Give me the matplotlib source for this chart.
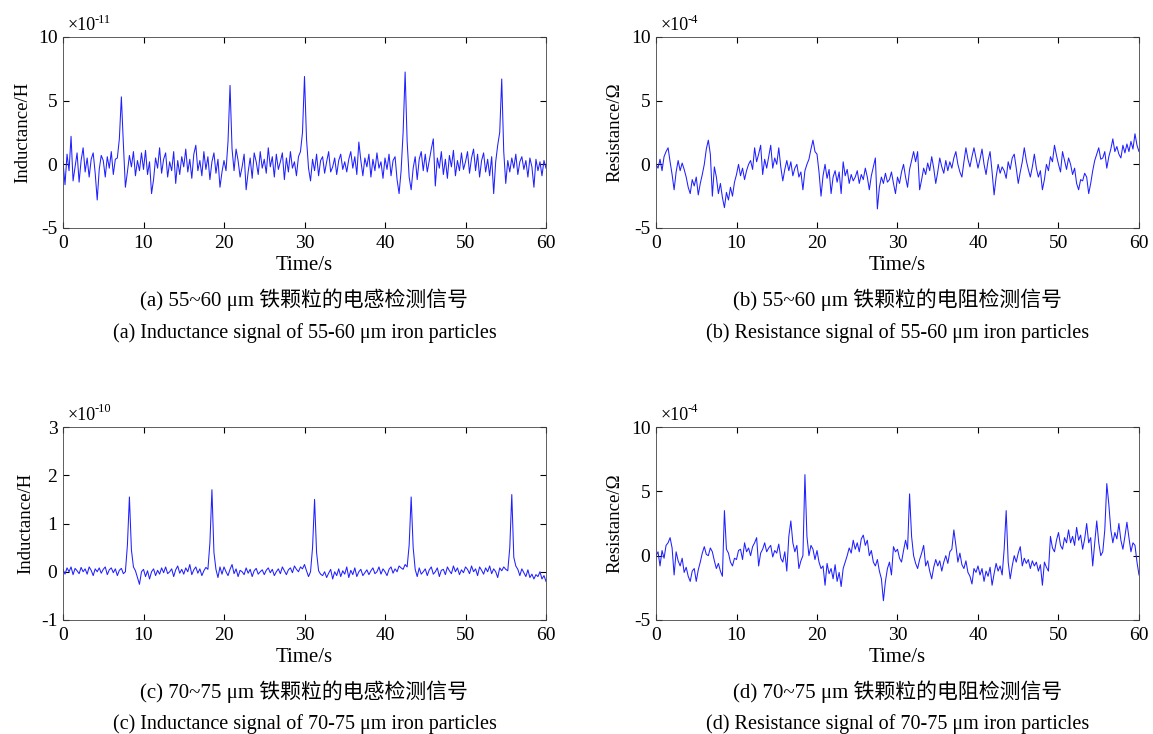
import numpy as np
import matplotlib
matplotlib.use("Agg")
import matplotlib.pyplot as plt

plt.rcParams['font.family'] = ['Liberation Serif', 'Noto Sans CJK SC']
plt.rcParams['axes.unicode_minus'] = False

# time axis: 0..60 s, sample every 0.25 s
t = np.arange(241) * 0.25

# (a) inductance, 55-60 um particles, x1e-11 H
ind_a = [
    0.2, -1.6, 0.8, -0.5, 2.2, -1.3, -0.2, 0.9, -1.4, 0.3, 1.3, -0.6, 0.5, -1.0, 0.4, 0.9, -0.7, -2.8, -0.4, 0.7,
    0.3, -1.0, 0.6, -0.3, 1.0, -0.8, 0.4, 0.5, 2.0, 5.3, 1.6, -1.8, -0.6, 0.7, -0.2, 1.0, -0.9, 0.3, -0.5, 0.9,
    -0.4, 1.1, -0.8, 0.2, -2.3, -1.2, 0.5, -0.3, 1.3, -0.7, 0.4, 0.9, -1.0, 0.2, -0.5, 1.0, -1.5, 0.3, -0.8, 0.6,
    -0.2, 1.2, -0.6, 0.4, -1.1, 0.8, 1.5, -0.5, 0.3, -0.9, 1.0, -0.4, 0.6, -1.2, 0.2, 0.9, -0.7, 0.4, -1.8, -0.6,
    0.3, -0.5, 1.8, 6.2, 1.2, -0.5, 1.2, 0.3, -1.0, -0.2, 0.8, -2.0, -0.6, 0.5, -1.1, 0.9, 0.2, -0.8, 1.0, -0.3,
    0.4, -0.7, 1.3, -0.2, 0.6, -1.0, 0.8, -0.4, 0.2, 0.9, -1.2, 0.5, -0.6, 1.0, -0.3, 0.2, -0.9, 0.6, 1.0, 2.5,
    6.9, 2.0, -0.3, -1.3, 0.4, -0.5, 0.8, -0.9, 0.3, 0.6, -0.7, 0.2, 1.0, -0.6, -0.2, 0.5, -0.8, 0.3, 0.8, -0.4,
    0.2, -0.6, 0.4, 1.0, -0.3, 0.6, -0.8, 1.75, 0.3, -0.9, 0.5, -0.2, 0.8, -1.0, 0.4, -0.5, 0.9, -0.3, 0.2, -1.1,
    0.5, -0.4, 0.8, -0.9, 0.3, 0.6, -1.2, -2.3, -0.5, 2.5, 7.25, 1.8, -1.0, -2.0, -0.3, 0.6, -1.2, 0.4, 1.0, -0.5,
    0.8, -0.6, 0.3, 1.2, 2.0, -1.7, 0.5, -0.3, 1.0, -0.8, 0.4, -1.1, 0.7, -0.2, 1.1, -0.9, 0.3, -0.5, 0.9, -0.4,
    0.2, 1.0, -0.7, 0.5, 1.2, -0.5, 0.8, -1.0, 0.3, 0.9, -0.6, 0.4, -0.9, 0.6, -2.3, 0.2, 1.5, 2.5, 6.7, 1.0,
    -1.5, 0.3, -0.6, 0.5, -0.3, 0.8, -0.8, 0.2, 0.6, -0.4, 0.3, -1.0, 0.5, -0.2, -1.8, 0.4, -0.5, 0.2, -0.9, 0.3,
    -0.3,
]

# (b) resistance, 55-60 um particles, x1e-4 Ohm
res_b = [
    0.0, -0.3, 0.4, -0.5, 0.6, 1.0, 1.3, 0.2, -0.8, -2.0, -0.6, 0.3, -0.5, 0.1, -0.4, -1.0, -1.8, -2.3, -1.2, -1.7,
    -1.0, -2.4, -1.5, -0.8, 0.0, 1.2, 1.9, 0.8, -2.5, -0.2, -1.0, -2.3, -1.5, -2.6, -3.4, -2.2, -2.8, -1.8, -2.5, -1.4,
    -0.8, 0.0, -0.9, -0.3, -1.2, -0.5, 0.0, 0.3, -0.4, 1.3, 0.2, 0.8, 1.5, -0.8, 0.4, -0.3, 0.6, 1.5, -0.3, 0.5,
    0.0, 1.3, -0.2, -1.3, -0.4, 0.3, -0.5, 0.2, -0.9, -0.3, 0.0, -1.0, -0.6, -2.0, -0.5, 0.0, 0.4, 1.2, 1.9, 1.0,
    0.8, -0.6, -2.5, -0.9, 0.0, -1.1, -0.4, -2.3, -1.0, -0.5, -1.4, -0.6, -2.3, 0.2, -0.9, -0.4, -1.5, -0.8, -1.3, -1.0,
    -0.5, -1.5, -0.8, -1.2, -0.3, -1.0, -2.0, -0.9, -0.2, 0.5, -3.5, -1.8, -1.0, -1.5, -0.7, -1.4, -1.2, -0.6, -1.5, -2.3,
    -1.0, -1.5, -0.6, 0.0, -1.0, -1.8, -0.4, 0.3, 1.0, 0.2, 1.0, -2.0, -1.2, -0.3, -0.8, 0.1, -0.5, 0.6, -0.3, -1.5,
    -0.6, 0.5, -0.2, -0.7, 0.3, -0.5, 0.2, -0.3, 0.5, 1.0, 0.0, -0.6, -1.0, 0.2, 1.3, 0.4, -0.2, 0.6, 1.3, 0.5,
    -0.3, 0.4, 1.2, 0.0, -0.8, 0.3, 1.0, -0.6, -2.4, -1.0, 0.0, -0.7, -0.2, -0.5, -1.1, 0.2, -0.4, 0.5, 0.8, -0.3,
    -1.5, -0.6, 0.2, 1.3, 0.3, -0.4, -1.0, -0.2, 0.8, -0.3, -1.0, -0.5, -2.0, -1.2, 0.0, -0.5, 0.6, 0.2, 1.5, 0.7,
    0.0, -0.6, 1.0, 0.3, -0.4, 0.5, 0.0, -0.8, -0.3, -1.5, -2.0, -1.2, -1.3, -0.7, -1.0, -2.3, -1.5, -0.5, 0.3, 0.8,
    1.3, 0.4, 0.5, 1.0, -0.3, 0.6, 1.2, 2.0, 1.0, 1.4, 0.8, 0.5, 1.5, 0.9, 1.6, 1.0, 1.8, 1.2, 2.4, 1.5,
    1.0,
]

# (c) inductance, 70-75 um particles, x1e-10 H
ind_c = [
    0.05, -0.05, 0.08, 0.0, 0.1, -0.06, 0.07, 0.02, -0.04, 0.09, 0.0, 0.06, -0.05, 0.1, 0.03, -0.08, 0.06, 0.0, 0.08, -0.03,
    0.05, 0.1, -0.06, 0.04, 0.08, -0.02, 0.06, -0.08, 0.03, 0.07, -0.04, 0.0, 0.55, 1.55, 0.45, 0.1, 0.02, -0.12, -0.26, 0.0,
    0.05, -0.1, 0.02, -0.15, 0.0, 0.06, -0.08, 0.03, -0.05, 0.08, -0.02, 0.1, -0.04, 0.0, 0.06, -0.1, 0.04, 0.12, -0.03, 0.05,
    -0.05, 0.08, 0.0, 0.15, -0.06, 0.04, 0.1, -0.03, 0.06, -0.08, 0.02, 0.09, 0.05, 0.6, 1.7, 0.4, 0.05, -0.12, 0.1, -0.05,
    0.1, 0.0, -0.08, 0.05, 0.15, -0.04, 0.06, -0.1, 0.03, 0.0, -0.06, 0.08, -0.03, 0.05, -0.1, 0.02, 0.07, -0.05, 0.0, 0.04,
    -0.06, 0.03, 0.08, -0.02, 0.05, -0.08, 0.0, 0.06, -0.04, 0.1, 0.02, -0.06, 0.04, 0.08, -0.02, 0.12, 0.05, 0.0, 0.1, 0.06,
    0.15, 0.02, -0.1, 0.0, 0.5, 1.5, 0.4, 0.02, -0.05, -0.08, 0.0, -0.12, -0.03, 0.05, -0.15, 0.0, -0.08, 0.06, -0.1, 0.02,
    -0.05, 0.1, -0.12, 0.03, -0.06, 0.08, -0.1, 0.0, 0.05, -0.08, -0.02, 0.04, -0.06, 0.02, 0.08, -0.04, 0.0, 0.1, -0.05, 0.06,
    0.0, -0.08, 0.05, 0.1, -0.03, 0.06, 0.0, 0.12, 0.08, 0.05, 0.15, 0.1, 0.55, 1.55, 0.5, 0.05, -0.1, 0.08, -0.05, 0.0,
    0.06, -0.08, 0.04, 0.1, -0.05, 0.0, 0.08, -0.1, 0.03, 0.05, -0.06, 0.1, 0.02, -0.04, 0.12, 0.0, 0.08, -0.06, 0.04, -0.02,
    0.1, 0.05, -0.04, 0.12, 0.0, 0.06, -0.08, 0.1, 0.03, -0.05, 0.08, 0.0, 0.12, -0.04, 0.06, 0.0, -0.12, 0.08, 0.02, 0.1,
    0.05, 0.02, 0.5, 1.6, 0.3, 0.12, 0.05, -0.08, 0.06, -0.02, -0.1, 0.04, -0.12, -0.05, -0.15, -0.06, -0.1, 0.0, -0.15, -0.08,
    -0.2,
]

# (d) resistance, 70-75 um particles, x1e-4 Ohm
res_d = [
    0.0, 0.3, -0.8, 0.4, -0.2, 0.8, 1.0, 1.4, 0.6, -1.5, 0.3, -0.4, -0.8, -0.2, -1.3, -0.9, -1.6, -2.0, -1.2, -1.0,
    -2.0, -1.1, -0.5, 0.2, 0.7, 0.1, 0.0, 0.6, 0.3, -0.4, -1.0, -0.6, -1.2, -1.6, 3.5, 0.5, 0.2, -0.5, -0.8, -0.2,
    -0.3, 0.4, 0.5, -0.3, 1.0, 0.3, 0.6, 0.0, 0.7, 1.0, 1.4, -0.8, 0.2, 0.5, 1.0, 0.3, 0.6, 0.8, -0.1, 0.4,
    0.2, 0.9, -0.2, -0.5, 0.3, -1.2, 1.5, 2.7, 1.0, 0.3, 0.8, -1.0, -0.4, 0.0, 6.3, 1.5, 0.0, 0.8, 0.5, -0.3,
    0.4, -0.5, -1.0, -0.8, -2.3, -0.6, -1.4, -1.0, -1.8, -0.7, -2.0, -1.3, -2.4, -1.0, -0.5, 0.0, 0.6, 0.2, 1.2, 0.5,
    1.0, 0.3, 1.3, 1.6, 0.8, 1.2, 0.0, 0.4, -0.5, -0.8, -0.3, -1.2, -1.8, -3.5, -2.0, -1.0, -0.5, -1.5, 0.7, 0.3,
    0.5, -0.2, -0.5, 0.4, 1.2, 0.5, 4.8, 1.5, 0.0, -0.6, -1.0, -0.3, 0.2, 0.8, -0.8, -0.4, -1.2, -1.8, -0.9, -0.3,
    -0.8, -0.4, -1.2, -0.5, 0.0, -0.6, 0.3, 0.5, 2.0, 0.8, -0.5, 0.2, -0.7, -1.0, -0.4, -1.3, -1.6, -2.2, -1.0, -1.3,
    -0.8, -1.5, -1.0, -2.0, -1.2, -1.6, -0.9, -2.3, -1.4, -0.6, -1.2, -0.8, -1.5, 0.5, 3.5, -0.5, -1.8, -0.8, 0.0, -0.5,
    0.2, 0.7, -0.8, -0.2, -0.6, -0.3, -1.0, -0.4, -0.8, -0.5, -1.2, -0.7, -2.3, -0.5, -0.9, -1.2, 1.5, 0.6, 0.3, 1.2,
    1.8, 0.8, 0.5, 1.4, 1.0, 2.0, 1.0, 1.5, 0.8, 2.2, 1.2, 1.6, 0.5, 1.3, 2.5, 1.0, 1.4, -0.8, 1.0, 2.7,
    1.0, 0.0, 0.3, 2.0, 5.6, 4.0, 2.0, 1.0, 1.8, 1.3, 2.5, 1.2, 0.5, 1.5, 2.6, 1.4, 0.3, 1.0, 0.8, -0.5,
    -1.5,
]

panels = [
    (ind_a, [-5, 10], [-5, 0, 5, 10], 'Inductance/H', '-11',
     '(a) 55~60 μm 铁颗粒的电感检测信号', '(a) Inductance signal of 55-60 μm iron particles'),
    (res_b, [-5, 10], [-5, 0, 5, 10], 'Resistance/Ω', '-4',
     '(b) 55~60 μm 铁颗粒的电阻检测信号', '(b) Resistance signal of 55-60 μm iron particles'),
    (ind_c, [-1, 3], [-1, 0, 1, 2, 3], 'Inductance/H', '-10',
     '(c) 70~75 μm 铁颗粒的电感检测信号', '(c) Inductance signal of 70-75 μm iron particles'),
    (res_d, [-5, 10], [-5, 0, 5, 10], 'Resistance/Ω', '-4',
     '(d) 70~75 μm 铁颗粒的电阻检测信号', '(d) Resistance signal of 70-75 μm iron particles'),
]

W, H = 1153, 734
fig = plt.figure(figsize=(W / 100, H / 100), dpi=100)

# axes boxes in pixels: left, top, right, bottom
boxes = [(63, 37, 546, 228), (656, 37, 1139, 228),
         (63, 427, 546, 620), (656, 427, 1139, 620)]
cap_y = [(300, 333), (300, 333), (692, 724), (692, 724)]

for (y, ylim, yticks, ylab, expo, cap_cn, cap_en), (l, tp, r, b), (c1, c2) in zip(panels, boxes, cap_y):
    ax = fig.add_axes([l / W, 1 - b / H, (r - l) / W, (b - tp) / H])
    ax.plot(t, y, color='#2020ff', lw=0.75)
    ax.set_xlim(0, 60)
    ax.set_ylim(*ylim)
    ax.set_xticks(range(0, 61, 10))
    ax.set_yticks(yticks)
    ax.tick_params(direction='in', top=True, right=True, length=4, labelsize=14)
    ax.tick_params(axis='x', pad=5)
    ax.tick_params(axis='y', pad=4)
    for s in ax.spines.values():
        s.set_linewidth(0.6)
        s.set_color('#444444')
    ax.set_xlabel('Time/s', fontsize=15, labelpad=3)
    ax.set_ylabel(ylab, fontsize=13.5, labelpad=5)
    # "x10" with a small exponent, MATLAB style
    ax.text(0.01, 1.015, '×10', transform=ax.transAxes, fontsize=13, va='bottom', ha='left')
    ax.text(0.066, 1.06, expo, transform=ax.transAxes, fontsize=9, va='bottom', ha='left')
    cx = (l + r) / 2 / W
    fig.text(cx, 1 - c1 / H, cap_cn, ha='center', va='center', fontsize=15)
    fig.text(cx, 1 - c2 / H, cap_en, ha='center', va='center', fontsize=14.5)

fig.savefig('out.png', dpi=100)
